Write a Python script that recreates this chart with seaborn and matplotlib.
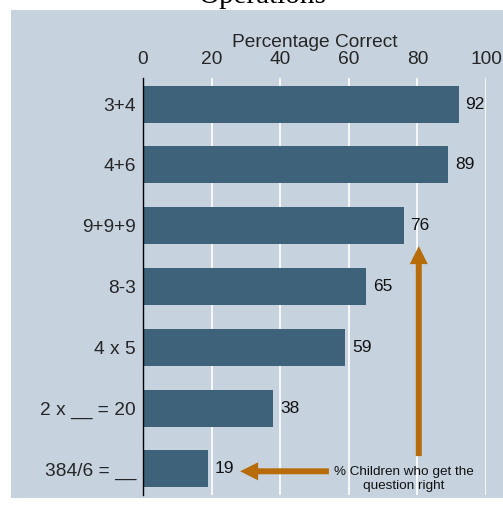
import matplotlib
matplotlib.use("Agg")
import matplotlib.pyplot as plt
import seaborn as sns
import pandas as pd
from matplotlib.patches import Rectangle

questions = ["3+4", "4+6", "9+9+9", "8-3", "4 x 5", "2 x __ = 20", "384/6 = __"]
pct_correct = [92, 89, 76, 65, 59, 38, 19]
x_ticks = [0, 20, 40, 60, 80, 100]

df = pd.DataFrame({"question": questions, "pct": pct_correct})

sns.set_theme(style="white")
plt.rcParams["font.family"] = ["Liberation Sans", "DejaVu Sans"]

panel_c = "#c6d3df"
bar_c = "#3e6279"
arrow_c = "#b86b0b"

fig = plt.figure(figsize=(5.03, 5.08), dpi=100)
fig.patch.set_facecolor("white")
fig.patches.append(Rectangle((11/503, 1 - 498/508), 1 - 11/503, (498 - 10)/508,
                             transform=fig.transFigure, facecolor=panel_c,
                             edgecolor="none", zorder=-5))
ax = fig.add_axes([143/503, 1 - 495/508, (486 - 143)/503, (495 - 78)/508])
ax.set_zorder(2)
ax.set_facecolor(panel_c)

sns.barplot(data=df, x="pct", y="question", color=bar_c, saturation=1,
            width=0.61, ax=ax, zorder=3, linewidth=0, edgecolor="none")
for c in ax.containers:
    ax.bar_label(c, padding=5, fontsize=12.5, color="#111111")

ax.set_xlim(0, 100)
ax.set_ylim(6.43, -0.43)
ax.set_xticks(x_ticks)
ax.xaxis.tick_top()
ax.xaxis.set_label_position("top")
ax.set_xlabel("Percentage Correct", fontsize=13.8, labelpad=3)
ax.set_ylabel("")
ax.tick_params(axis="x", length=0, pad=7, labelsize=13.8)
ax.tick_params(axis="y", length=0, pad=5, labelsize=13.8)
ax.grid(axis="x", color="white", linewidth=1.2, zorder=1)
ax.set_axisbelow(True)
for s in ["top", "right", "bottom"]:
    ax.spines[s].set_visible(False)
ax.spines["left"].set_color("black")
ax.spines["left"].set_linewidth(1)
ax.spines["left"].set_zorder(5)

# arrows
astyle = "simple,head_length=1.3,head_width=1.3,tail_width=0.43"
ax.annotate("", xy=(80.4, 2.335), xytext=(80.4, 5.79),
            arrowprops=dict(arrowstyle=astyle, mutation_scale=10, lw=0,
                            facecolor=arrow_c, edgecolor="none",
                            shrinkA=0, shrinkB=0), zorder=6)
ax.annotate("", xy=(28.3, 6.04), xytext=(54.2, 6.04),
            arrowprops=dict(arrowstyle=astyle, mutation_scale=10, lw=0,
                            facecolor=arrow_c, edgecolor="none",
                            shrinkA=0, shrinkB=0), zorder=6)
ax.text(76, 6.165, "% Children who get the\nquestion right", ha="center",
        va="center", fontsize=9.7, color="#111111", linespacing=1.25, zorder=7)

fig.text(263/503, 1 - 3/508, "Operations", ha="center", va="baseline",
         fontsize=21, family=["Liberation Serif", "DejaVu Serif"], color="black")

fig.savefig("out.png", dpi=100)
